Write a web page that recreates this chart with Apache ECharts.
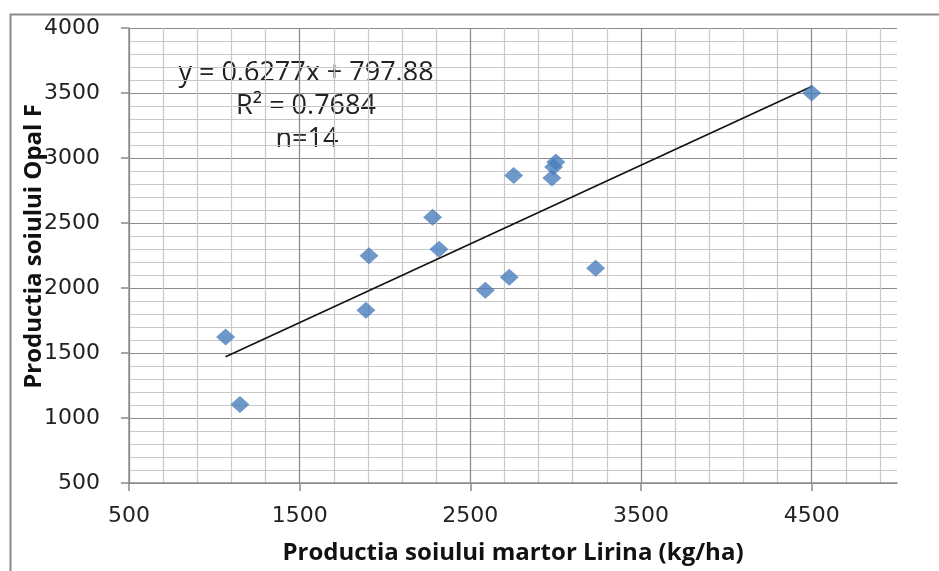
<!DOCTYPE html>
<html>
<head>
<meta charset="utf-8">
<script src="https://cdn.jsdelivr.net/npm/echarts@6/dist/echarts.min.js"></script>
<style>html,body{margin:0;padding:0;background:#fff;}#c{width:939px;height:571px;}</style>
</head>
<body>
<div id="c"></div>
<script>
// Data
var xValues = [1066, 1150, 1888, 1906, 2279, 2316, 2588, 2728, 2754, 2978, 2988, 3001, 3234, 4500];
var yValues = [1623, 1103, 1828, 2249, 2545, 2298, 1982, 2082, 2866, 2846, 2931, 2969, 2152, 3500];
var xTicks = [500, 1500, 2500, 3500, 4500];
var yTicks = [500, 1000, 1500, 2000, 2500, 3000, 3500, 4000];
var equationText = 'y = 0.6277x + 797.88';
var r2Text = 'R\u00B2 = 0.7684';
var nText = 'n=14';
var xTitle = 'Productia soiului martor Lirina (kg/ha)';
var yTitle = 'Productia soiului Opal F';

var points = xValues.map(function (x, i) { return [x, yValues[i]]; });
// least-squares trend line from the data
var n = xValues.length, mx = 0, my = 0;
for (var i = 0; i < n; i++) { mx += xValues[i]; my += yValues[i]; }
mx /= n; my /= n;
var sxy = 0, sxx = 0;
for (i = 0; i < n; i++) { sxy += (xValues[i] - mx) * (yValues[i] - my); sxx += (xValues[i] - mx) * (xValues[i] - mx); }
var slope = sxy / sxx, icpt = my - slope * mx;
var xMin = Math.min.apply(null, xValues), xMax = Math.max.apply(null, xValues);
var trend = [[xMin, slope * xMin + icpt], [xMax, slope * xMax + icpt]];

// split-line colours: the line at the right edge (x = 5000) is not drawn
var majorGray = '#8c8c8c', minorGray = '#c8c8c8', none = 'rgba(0,0,0,0)';
var majorXColors = [majorGray, majorGray, majorGray, majorGray, majorGray, none];
var minorXColors = [];
for (i = 0; i < 23; i++) minorXColors.push(minorGray);
minorXColors.push(none);

var chart = echarts.init(document.getElementById('c'), null, {renderer: 'canvas'});
var labelFont = {fontFamily: 'DejaVu Sans', fontSize: 22, color: '#222'};
var titleFont = {fontFamily: 'Open Sans', fontWeight: 'bold', fontSize: 24, color: '#111'};
var axisGray = '#8a8a8a';
chart.setOption({
  animation: false,
  grid: {left: 129, right: 42, top: 28, bottom: 88, containLabel: false},
  xAxis: [{
    type: 'value', min: 500, max: 5000, interval: 1000, z: 2,
    name: xTitle, nameLocation: 'middle', nameGap: 58, nameMoveOverlap: false, nameTextStyle: titleFont,
    axisLine: {show: true, lineStyle: {color: axisGray, width: 1.5}},
    axisTick: {show: true, length: 8, lineStyle: {color: axisGray, width: 1.5}},
    axisLabel: Object.assign({margin: 22, showMaxLabel: false, formatter: function (v) { return xTicks.indexOf(v) >= 0 ? String(v) : ''; }}, labelFont),
    splitLine: {show: true, lineStyle: {color: majorXColors, width: 1.2}}
  }, {
    type: 'value', min: 500, max: 5000, interval: 200, position: 'bottom', z: 1,
    axisLine: {show: false}, axisTick: {show: false}, axisLabel: {show: false},
    splitLine: {show: true, lineStyle: {color: minorXColors, width: 1.2}}
  }],
  yAxis: {
    type: 'value', min: 500, max: 4000, interval: 500,
    name: yTitle, nameLocation: 'middle', nameGap: 83, nameRotate: 90, nameMoveOverlap: false,
    nameTextStyle: Object.assign({padding: [0, 0, 0, 18]}, titleFont),
    axisLine: {show: true, lineStyle: {color: axisGray, width: 1.5}},
    axisTick: {show: true, length: 8, lineStyle: {color: axisGray, width: 1.5}},
    axisLabel: Object.assign({margin: 29, formatter: function (v) { return yTicks.indexOf(v) >= 0 ? String(v) : ''; }}, labelFont),
    splitLine: {show: true, lineStyle: {color: majorGray, width: 1.2}},
    minorTick: {show: false, splitNumber: 5},
    minorSplitLine: {show: true, lineStyle: {color: minorGray, width: 1.2}}
  },
  series: [
    {
      type: 'line', data: trend, symbol: 'none', z: 3,
      lineStyle: {color: '#111', width: 1.6}
    },
    {
      type: 'scatter', data: points, symbol: 'diamond', symbolSize: [19, 17], z: 4,
      itemStyle: {color: '#4a7ebb'}
    }
  ],
  graphic: [
    {type: 'rect', left: 8, top: 12, shape: {width: 1000, height: 700}, style: {fill: 'none', stroke: '#8a8a8a', lineWidth: 2}, silent: true, z: -10},
    {type: 'text', x: 306, y: 73, style: {text: equationText, align: 'center', verticalAlign: 'middle', fontFamily: 'Open Sans', fontSize: 27, fill: '#222'}},
    {type: 'text', x: 306, y: 106, style: {text: r2Text, align: 'center', verticalAlign: 'middle', fontFamily: 'Open Sans', fontSize: 27, fill: '#222'}},
    {type: 'text', x: 307, y: 139, style: {text: nText, align: 'center', verticalAlign: 'middle', fontFamily: 'Open Sans', fontSize: 27, fill: '#222'}}
  ]
});
</script>
</body>
</html>
